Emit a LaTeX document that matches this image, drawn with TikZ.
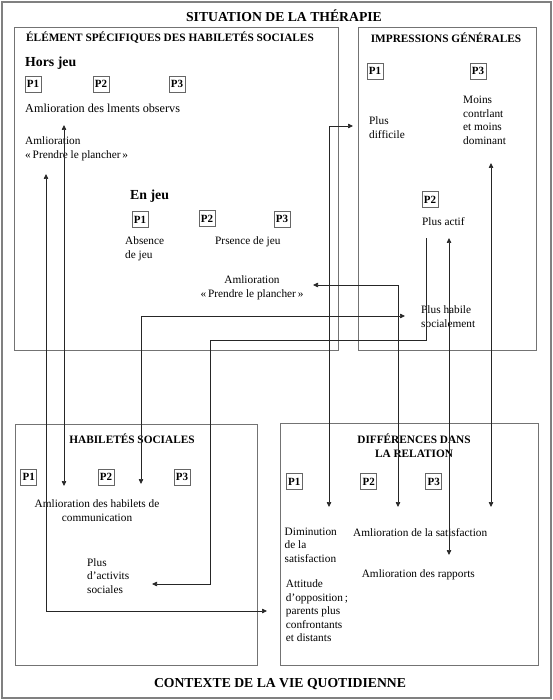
\documentclass[tikz,border=0pt]{standalone}
\usepackage{fontspec}
\setmainfont{Liberation Serif}
\usetikzlibrary{arrows.meta}

\begin{document}
\begin{tikzpicture}[x=1pt,y=-1pt,
  >={Triangle[length=5pt,width=4.5pt]},
  frame/.style={draw=black!55, line width=1pt},
  pbox/.style={draw=black!60, line width=0.8pt, inner sep=1pt,
    minimum width=16pt, minimum height=16pt,
    font=\bfseries\fontsize{11}{13}\selectfont},
  txt/.style={anchor=west, align=left, inner sep=0pt,
    font=\fontsize{11.3}{13.6}\selectfont},
  ctxt/.style={align=center, inner sep=0pt,
    font=\fontsize{11.3}{13.6}\selectfont},
  jeu/.style={anchor=west, inner sep=0pt,
    font=\bfseries\fontsize{13.8}{16}\selectfont},
  boxhead/.style={align=center, inner sep=0pt,
    font=\bfseries\fontsize{11.3}{14.4}\selectfont},
  mainhead/.style={inner sep=0pt, font=\bfseries\fontsize{13.7}{16}\selectfont},
  link/.style={draw=black!85, line width=0.7pt}]
  \useasboundingbox (0,0) rectangle (553,700);
  \draw[draw=black!50, line width=1.5pt] (2,2) rectangle (551,698);
  \node[mainhead] (sit) at (284,16) {SITUATION DE LA THÉRAPIE};
  \node[mainhead] (ctx) at (280,684) {CONTEXTE DE LA VIE QUOTIDIENNE};

  \draw[frame] (14,28) rectangle (338,350);
  \draw[frame] (358,28) rectangle (536,350);
  \draw[frame] (15,424) rectangle (257,665);
  \draw[frame] (280,423) rectangle (538,665);

  \node[boxhead, anchor=west] (elem) at (26,38) {ÉLÉMENT SPÉCIFIQUES DES HABILETÉS SOCIALES};
  \node[jeu] (hors) at (25,63) {Hors jeu};
  \node[pbox] (hp1) at (33,84) {P1};
  \node[pbox] (hp2) at (101,84) {P2};
  \node[pbox] (hp3) at (177,84) {P3};
  \node[txt, font=\fontsize{12.2}{14}\selectfont] (hobs) at (25,108) {Amlioration des lments observs};
  \node[txt] (hprend) at (25,148.5) {Amlioration\\«\,Prendre le plancher\,»};
  \node[jeu] (en) at (130,196) {En jeu};
  \node[pbox] (ep1) at (140,219.5) {P1};
  \node[pbox] (ep2) at (207,218.5) {P2};
  \node[pbox] (ep3) at (282,219) {P3};
  \node[txt] (abs) at (125,249) {Absence\\de jeu};
  \node[txt] (pres) at (215,242) {Prsence de jeu};
  \node[ctxt] (eprend) at (252,287.5) {Amlioration\\«\,Prendre le plancher\,»};

  \node[boxhead] (impr) at (446,38) {IMPRESSIONS GÉNÉRALES};
  \node[pbox] (ip1) at (375,71) {P1};
  \node[pbox] (ip3) at (478,71) {P3};
  \node[txt] (diff) at (369,127.5) {Plus\\difficile};
  \node[txt] (moins) at (463,120.5) {Moins\\contrlant\\et moins\\dominant};
  \node[pbox] (ip2) at (430,199.5) {P2};
  \node[txt] (actif) at (422,221.5) {Plus actif};
  \node[txt] (habile) at (421,316.5) {Plus habile\\socialement};

  \node[boxhead] (hab) at (132,439) {HABILETÉS SOCIALES};
  \node[pbox] (sp1) at (28.7,477) {P1};
  \node[pbox] (sp2) at (106,477) {P2};
  \node[pbox] (sp3) at (182,477) {P3};
  \node[ctxt] (comm) at (97,510.5) {Amlioration des habilets de\\communication};
  \node[txt] (activ) at (87,575.8) {Plus\\d’activits\\sociales};

  \node[boxhead] (rel) at (414,445.5) {DIFFÉRENCES DANS\\LA RELATION};
  \node[pbox] (rp1) at (294.3,481.7) {P1};
  \node[pbox] (rp2) at (368.7,481.7) {P2};
  \node[pbox] (rp3) at (433.8,481.7) {P3};
  \node[txt] (dimi) at (284.5,545) {Diminution\\de la\\satisfaction};
  \node[txt] (satis) at (353,532.3) {Amlioration de la satisfaction};
  \node[ctxt] (rapp) at (418.3,575) {Amlioration des rapports};
  \node[txt] (oppo) at (285.7,610.8) {Attitude\\d’opposition\,;\\parents plus\\confrontants\\et distants};

  \coordinate (a1) at (64,125);
  \coordinate (a2) at (64,486);
  \coordinate (b1) at (46,174);
  \coordinate (b2) at (267,611);
  \coordinate (c1) at (141,484);
  \coordinate (c2) at (405,316);
  \coordinate (d1) at (152,584);
  \coordinate (d2) at (210,340);
  \coordinate (d3) at (426,238);
  \coordinate (e1) at (313,285);
  \coordinate (e2) at (398,507);
  \coordinate (f1) at (353,126);
  \coordinate (f2) at (329,507);
  \coordinate (g1) at (449,238);
  \coordinate (g2) at (449,555);
  \coordinate (h1) at (491,163);
  \coordinate (h2) at (491,507);

  \draw[link,<->] (a1) -- (a2);
  \draw[link,<->] (b1) |- (b2);
  \draw[link,<->] (c1) |- (c2);
  \draw[link,<-] (d1) -| (d2) -| (d3);
  \draw[link,<->] (e1) -| (e2);
  \draw[link,<->] (f1) -| (f2);
  \draw[link,<->] (g1) -- (g2);
  \draw[link,<->] (h1) -- (h2);
\end{tikzpicture}
\end{document}
